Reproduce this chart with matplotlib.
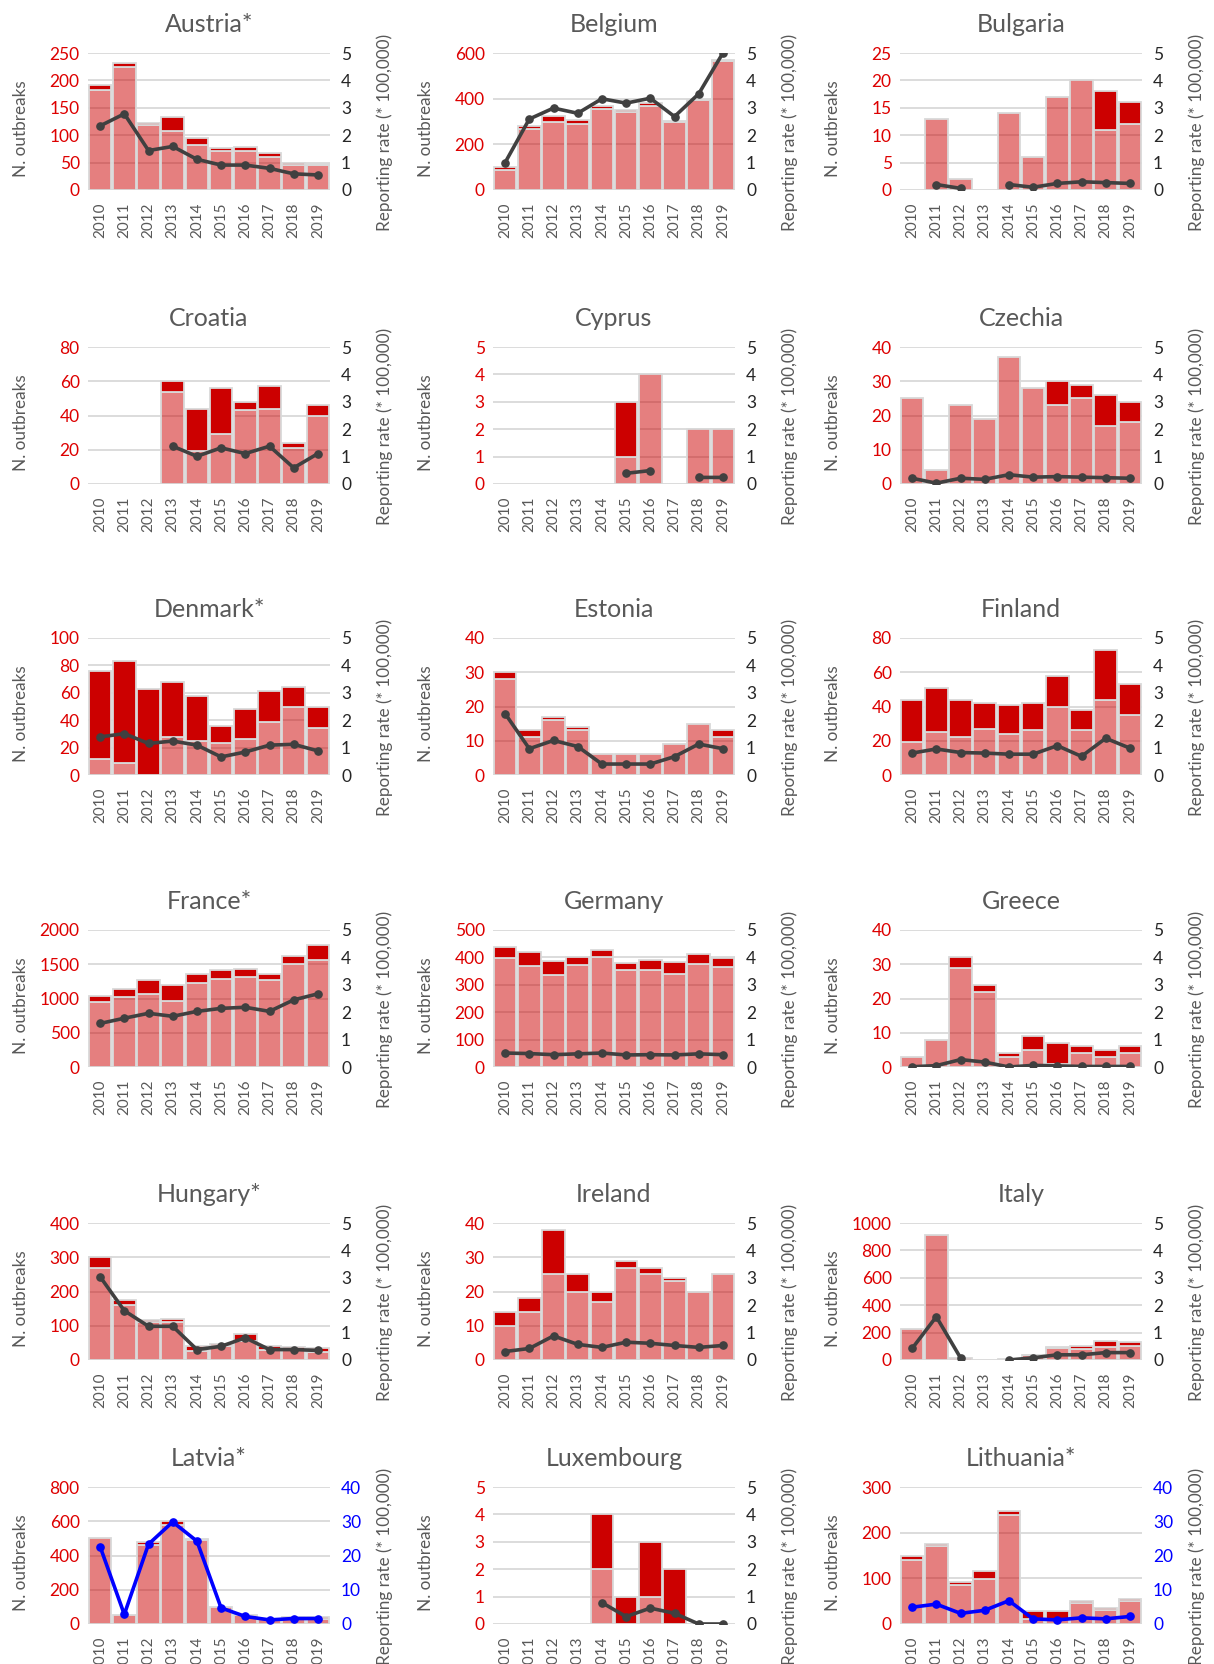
import numpy as np
import matplotlib
matplotlib.use("Agg")
import matplotlib.pyplot as plt

plt.rcParams['font.family'] = ['Lato', 'DejaVu Sans']

years = [str(y) for y in range(2010, 2020)]
nan = np.nan

# ---- data: light = lower (pale) segment, dark = upper segment, rate = line ----
austria_light = [183, 224, 118, 108, 83, 71, 71, 60, 45, 45]
austria_dark = [9, 7, 4, 25, 12, 5, 8, 8, 5, 2]
austria_rate = [2.34, 2.78, 1.44, 1.59, 1.12, 0.91, 0.91, 0.79, 0.59, 0.55]

belgium_light = [88, 266, 297, 290, 354, 340, 370, 298, 392, 566]
belgium_dark = [14, 14, 28, 17, 12, 11, 10, 6, 4, 4]
belgium_rate = [1.0, 2.59, 2.99, 2.80, 3.33, 3.17, 3.35, 2.68, 3.51, 5.0]

bulgaria_light = [0, 13, 2, 0, 14, 6, 17, 20, 11, 12]
bulgaria_dark = [0, 0, 0, 0, 0, 0, 0, 0, 7, 4]
bulgaria_rate = [nan, 0.2, 0.06, nan, 0.2, 0.1, 0.24, 0.3, 0.27, 0.24]

croatia_light = [0, 0, 0, 54, 19, 29, 43, 44, 21, 40]
croatia_dark = [0, 0, 0, 6, 25, 27, 5, 13, 3, 6]
croatia_rate = [nan, nan, nan, 1.38, 1.01, 1.32, 1.11, 1.38, 0.59, 1.11]

cyprus_light = [0, 0, 0, 0, 0, 1, 4, 0, 2, 2]
cyprus_dark = [0, 0, 0, 0, 0, 2, 0, 0, 0, 0]
cyprus_rate = [nan, nan, nan, nan, nan, 0.39, 0.49, nan, 0.24, 0.24]

czechia_light = [25, 4, 23, 19, 37, 28, 23, 25, 17, 18]
czechia_dark = [0, 0, 0, 0, 0, 0, 7, 4, 9, 6]
czechia_rate = [0.21, 0.03, 0.21, 0.17, 0.34, 0.25, 0.27, 0.25, 0.23, 0.21]

denmark_light = [12, 9, 0, 28, 25, 23, 26, 39, 50, 34]
denmark_dark = [64, 74, 63, 40, 33, 13, 22, 22, 14, 16]
denmark_rate = [1.39, 1.51, 1.15, 1.24, 1.09, 0.66, 0.84, 1.09, 1.12, 0.88]

estonia_light = [28, 11, 16, 13, 6, 6, 6, 9, 15, 11]
estonia_dark = [2, 2, 1, 1, 0, 0, 0, 0, 0, 2]
estonia_rate = [2.24, 0.96, 1.26, 1.04, 0.40, 0.40, 0.40, 0.67, 1.13, 0.96]

finland_light = [19, 25, 22, 27, 24, 26, 40, 26, 44, 35]
finland_dark = [25, 26, 22, 15, 17, 16, 18, 12, 29, 18]
finland_rate = [0.80, 0.95, 0.82, 0.80, 0.76, 0.76, 1.07, 0.68, 1.34, 0.98]

france_light = [950, 1020, 1060, 960, 1220, 1285, 1312, 1272, 1500, 1555]
france_dark = [80, 122, 205, 240, 133, 127, 124, 91, 118, 220]
france_rate = [1.59, 1.78, 1.96, 1.85, 2.03, 2.14, 2.18, 2.03, 2.45, 2.67]

germany_light = [397, 370, 335, 372, 401, 354, 354, 339, 375, 364]
germany_dark = [40, 51, 53, 31, 26, 27, 37, 45, 36, 34]
germany_rate = [0.51, 0.49, 0.45, 0.48, 0.51, 0.44, 0.45, 0.44, 0.48, 0.45]

greece_light = [3, 8, 29, 22, 3, 5, 1, 4, 3, 4]
greece_dark = [0, 0, 3, 2, 1, 4, 6, 2, 2, 2]
greece_rate = [0.01, 0.05, 0.27, 0.18, 0.0, 0.06, 0.04, 0.02, 0.02, 0.02]

hungary_light = [270, 160, 110, 112, 25, 40, 55, 30, 30, 22]
hungary_dark = [30, 15, 7, 8, 15, 6, 22, 10, 7, 12]
hungary_rate = [3.04, 1.80, 1.23, 1.23, 0.38, 0.50, 0.81, 0.38, 0.38, 0.35]

ireland_light = [10, 14, 25, 20, 17, 27, 25, 23, 20, 25]
ireland_dark = [4, 4, 13, 5, 3, 2, 2, 1, 0, 0]
ireland_rate = [0.31, 0.42, 0.88, 0.57, 0.46, 0.65, 0.61, 0.53, 0.46, 0.53]

italy_light = [225, 910, 15, 0, 5, 35, 90, 80, 95, 100]
italy_dark = [0, 0, 0, 0, 0, 5, 5, 20, 45, 35]
italy_rate = [0.42, 1.58, 0.08, nan, 0.0, 0.08, 0.19, 0.19, 0.27, 0.27]

latvia_light = [500, 50, 460, 580, 490, 100, 50, 30, 30, 30]
latvia_dark = [0, 0, 20, 20, 5, 0, 0, 0, 10, 10]
latvia_rate = [22.6, 2.8, 23.3, 29.8, 24.2, 4.7, 2.2, 1.2, 1.6, 1.6]

luxembourg_light = [0, 0, 0, 0, 2, 0, 1, 0, 0, 0]
luxembourg_dark = [0, 0, 0, 0, 2, 1, 2, 2, 0, 0]
luxembourg_rate = [nan, nan, nan, nan, 0.78, 0.27, 0.58, 0.39, 0.0, 0.0]

lithuania_light = [140, 170, 85, 98, 238, 12, 12, 45, 30, 50]
lithuania_dark = [8, 5, 7, 17, 10, 16, 16, 5, 5, 5]
lithuania_rate = [4.9, 5.8, 3.1, 4.0, 6.8, 1.5, 1.2, 1.8, 1.5, 2.2]

titles = ["Austria*", "Belgium", "Bulgaria", "Croatia", "Cyprus", "Czechia",
          "Denmark*", "Estonia", "Finland", "France*", "Germany", "Greece",
          "Hungary*", "Ireland", "Italy", "Latvia*", "Luxembourg", "Lithuania*"]
left_max = [250, 600, 25, 80, 5, 40, 100, 40, 80, 2000, 500, 40, 400, 40, 1000, 800, 5, 300]
left_step = [50, 200, 5, 20, 1, 10, 20, 10, 20, 500, 100, 10, 100, 10, 200, 200, 1, 100]
right_max = [5] * 15 + [40, 5, 40]
right_step = [1] * 15 + [10, 1, 10]

lights = [austria_light, belgium_light, bulgaria_light, croatia_light, cyprus_light,
          czechia_light, denmark_light, estonia_light, finland_light, france_light,
          germany_light, greece_light, hungary_light, ireland_light, italy_light,
          latvia_light, luxembourg_light, lithuania_light]
darks = [austria_dark, belgium_dark, bulgaria_dark, croatia_dark, cyprus_dark,
         czechia_dark, denmark_dark, estonia_dark, finland_dark, france_dark,
         germany_dark, greece_dark, hungary_dark, ireland_dark, italy_dark,
         latvia_dark, luxembourg_dark, lithuania_dark]
rates = [austria_rate, belgium_rate, bulgaria_rate, croatia_rate, cyprus_rate,
         czechia_rate, denmark_rate, estonia_rate, finland_rate, france_rate,
         germany_rate, greece_rate, hungary_rate, ireland_rate, italy_rate,
         latvia_rate, luxembourg_rate, lithuania_rate]

# ---- style ----
LIGHT = (0.8, 0.0, 0.0, 0.5)
DARK = '#CC0000'
EDGE = '#D9D9D9'
GRID = '#D9D9D9'
TXT = '#595959'
RED_TXT = '#DD0000'
LINE = '#404040'
BLUE = '#0000FF'

W, H = 1214, 1664
fig = plt.figure(figsize=(W / 100, H / 100), dpi=100)

col_left = [88, 493, 900]
col_w = 242
row_top = [53, 347, 638, 930, 1223, 1487]
ax_h = 137

x = np.arange(len(years))
for i in range(18):
    r, c = divmod(i, 3)
    ax = fig.add_axes([col_left[c] / W, 1 - (row_top[r] + ax_h) / H, col_w / W, ax_h / H])
    light = np.array(lights[i], dtype=float)
    dark = np.array(darks[i], dtype=float)
    rate = np.array(rates[i], dtype=float)

    m1 = light > 0
    ax.bar(x[m1], light[m1], width=0.94, color=LIGHT, edgecolor=EDGE, linewidth=1.3, zorder=2)
    m2 = dark > 0
    ax.bar(x[m2], dark[m2], bottom=light[m2], width=0.94, color=DARK, edgecolor=EDGE,
           linewidth=1.3, zorder=2)

    ax.set_xlim(-0.5, len(years) - 0.5)
    ax.set_ylim(0, left_max[i])
    ax.set_yticks(np.arange(0, left_max[i] + left_step[i] / 2, left_step[i]))
    ax.yaxis.grid(True, color=GRID, linewidth=1.3)
    ax.set_axisbelow(True)
    for s in ax.spines.values():
        s.set_visible(False)
    ax.set_xticks(x)
    ax.set_xticklabels(years, rotation=90, color=TXT, fontsize=11)
    ax.tick_params(axis='x', length=0, pad=9)
    ax.tick_params(axis='y', length=0, pad=6, labelcolor=RED_TXT, labelsize=12.5)
    ax.set_ylabel('N. outbreaks', color=TXT, fontsize=12.3)
    ax.yaxis.set_label_coords(-0.245, 0.445)
    ax.set_title(titles[i], color=TXT, fontsize=18, pad=15)

    ax2 = ax.twinx()
    lc = BLUE if right_max[i] == 40 else LINE
    ax2.plot(x, rate, color=lc, linewidth=2.6, marker='o', markersize=5.2, zorder=3)
    ax2.set_ylim(0, right_max[i])
    ax2.set_yticks(np.arange(0, right_max[i] + right_step[i] / 2, right_step[i]))
    for s in ax2.spines.values():
        s.set_visible(False)
    ax2.tick_params(axis='y', length=0, pad=8, labelsize=12.5,
                    labelcolor=(BLUE if right_max[i] == 40 else '#262626'))
    ax2.set_ylabel('Reporting rate (* 100,000)', color=TXT, fontsize=12.3)
    ax2.yaxis.set_label_coords(1.19, 0.42)

fig.savefig('out.png', dpi=100)
